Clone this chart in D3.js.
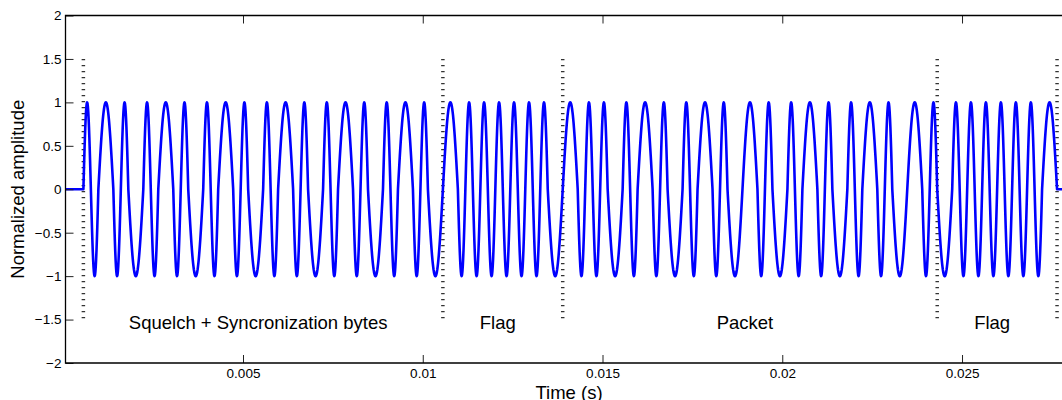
<!DOCTYPE html>
<html>
<head>
<meta charset="utf-8">
<script src="https://cdn.jsdelivr.net/npm/d3@7"></script>
<style>
body { margin: 0; background: #fff; }
svg { display: block; font-family: "Liberation Sans", Arial, sans-serif; }
</style>
</head>
<body>
<svg id="chart" width="1062" height="400"></svg>
<script>
// bits of each frame part, 1 = 2400 Hz tone, 0 = 1200 Hz tone
var segmentNames = ["Squelch + Syncronization bytes", "Flag", "Packet", "Flag"];
var syncBits = [1,0,1,0,1,0,1,0, 1,0,1,0,1,0,1,0, 1,0,1,0,1,0,1,0];
var flagBits = [0,1,1,1,1,1,1,0];
var packetBits = [0,1,1,0,1,0,1,0,1,0,1,0,0,1,0,1,0,1,0,1,0,1,0,0,1];
var segmentBits = [syncBits, flagBits, packetBits, flagBits];
var toneFreqs = [1200, 2400];
var bitRate = 2400;
var startTime = 0.00056;
var xTicks = [0.005, 0.01, 0.015, 0.02, 0.025];
var yTicks = [-2, -1.5, -1, -0.5, 0, 0.5, 1, 1.5, 2];

var svg = d3.select('#chart');
var box = {left: 65.5, right: 1072.5, top: 15.5, bottom: 363};

var x = d3.scaleLinear().domain([0.0000626, 0.028073]).range([box.left, box.right]);
var y = d3.scaleLinear().domain([-2, 2]).range([box.bottom, box.top]);

// continuous phase FSK waveform built from the bits
var bitT = 1 / bitRate;
var wave = [{t: x.domain()[0], v: 0}];
var t0 = startTime, phase = 0;
var bounds = [t0];
segmentBits.forEach(function(bits) {
	bits.forEach(function(b) {
		var f = toneFreqs[b];
		for (var i = 0; i < 40; i++) {
			var dt = bitT * i / 40;
			wave.push({t: t0 + dt, v: Math.sin(phase + 2 * Math.PI * f * dt)});
		}
		phase += 2 * Math.PI * f * bitT;
		t0 += bitT;
	});
	bounds.push(t0);
});
wave.push({t: t0, v: Math.sin(phase)});
wave.push({t: x.domain()[1], v: 0});

svg.append('clipPath').attr('id', 'clip')
	.append('rect').attr('x', box.left).attr('y', box.top)
	.attr('width', box.right - box.left).attr('height', box.bottom - box.top);

var g = svg.append('g');

// dotted separators
g.selectAll('.sep')
	.data(bounds)
	.enter().append('line')
	.attr('class', 'sep')
	.attr('x1', function(d) { return x(d); })
	.attr('x2', function(d) { return x(d); })
	.attr('y1', y(1.5))
	.attr('y2', y(-1.5))
	.attr('stroke', '#333')
	.attr('stroke-width', 3.5)
	.attr('stroke-dasharray', '1.2 4.8');

g.append('path')
	.datum(wave)
	.attr('clip-path', 'url(#clip)')
	.attr('fill', 'none')
	.attr('stroke', '#0000ff')
	.attr('stroke-width', 2.6)
	.attr('stroke-linejoin', 'round')
	.attr('d', d3.line().x(function(d) { return x(d.t); }).y(function(d) { return y(d.v); }));

// segment labels
g.selectAll('.lab')
	.data(segmentNames)
	.enter().append('text')
	.attr('x', function(d, i) { return x((bounds[i] + bounds[i + 1]) / 2) - 5; })
	.attr('y', 328.5)
	.attr('text-anchor', 'middle')
	.style('font-size', '18.5px')
	.text(function(d) { return d; });

// axes, ticks pointing inward
var fmt = function(d) { return d < 0 ? '\u2212' + Math.abs(d) : String(d); };

svg.append('g')
	.attr('transform', 'translate(0,' + box.bottom + ')')
	.call(d3.axisBottom(x).tickValues(xTicks).tickSizeInner(-8).tickSizeOuter(0).tickPadding(5).tickFormat(fmt));
svg.append('g')
	.attr('transform', 'translate(0,' + box.top + ')')
	.call(d3.axisTop(x).tickValues(xTicks).tickSizeInner(-8).tickSizeOuter(0).tickFormat(''));
svg.append('g')
	.attr('transform', 'translate(' + box.left + ',0)')
	.call(d3.axisLeft(y).tickValues(yTicks).tickSizeInner(-8).tickSizeOuter(0).tickPadding(4).tickFormat(fmt));

svg.selectAll('.domain').remove();
svg.selectAll('.tick line').attr('stroke', '#222');
svg.selectAll('.tick text')
	.attr('fill', '#000')
	.style('font-size', '13.5px')
	.style('font-family', '"Liberation Sans", Arial, sans-serif');

svg.append('path')
	.attr('d', 'M' + box.right + ',' + box.top + 'H' + box.left + 'V' + box.bottom + 'H' + box.right)
	.attr('fill', 'none')
	.attr('stroke', '#000')
	.attr('stroke-width', 1.3);

svg.append('text')
	.attr('x', (box.left + box.right) / 2)
	.attr('y', 399)
	.attr('text-anchor', 'middle')
	.style('font-size', '18.5px')
	.text('Time (s)');

svg.append('text')
	.attr('transform', 'translate(23.5,' + (box.top + box.bottom) / 2 + ') rotate(-90)')
	.attr('text-anchor', 'middle')
	.style('font-size', '18.5px')
	.text('Normalized amplitude');
</script>
</body>
</html>
